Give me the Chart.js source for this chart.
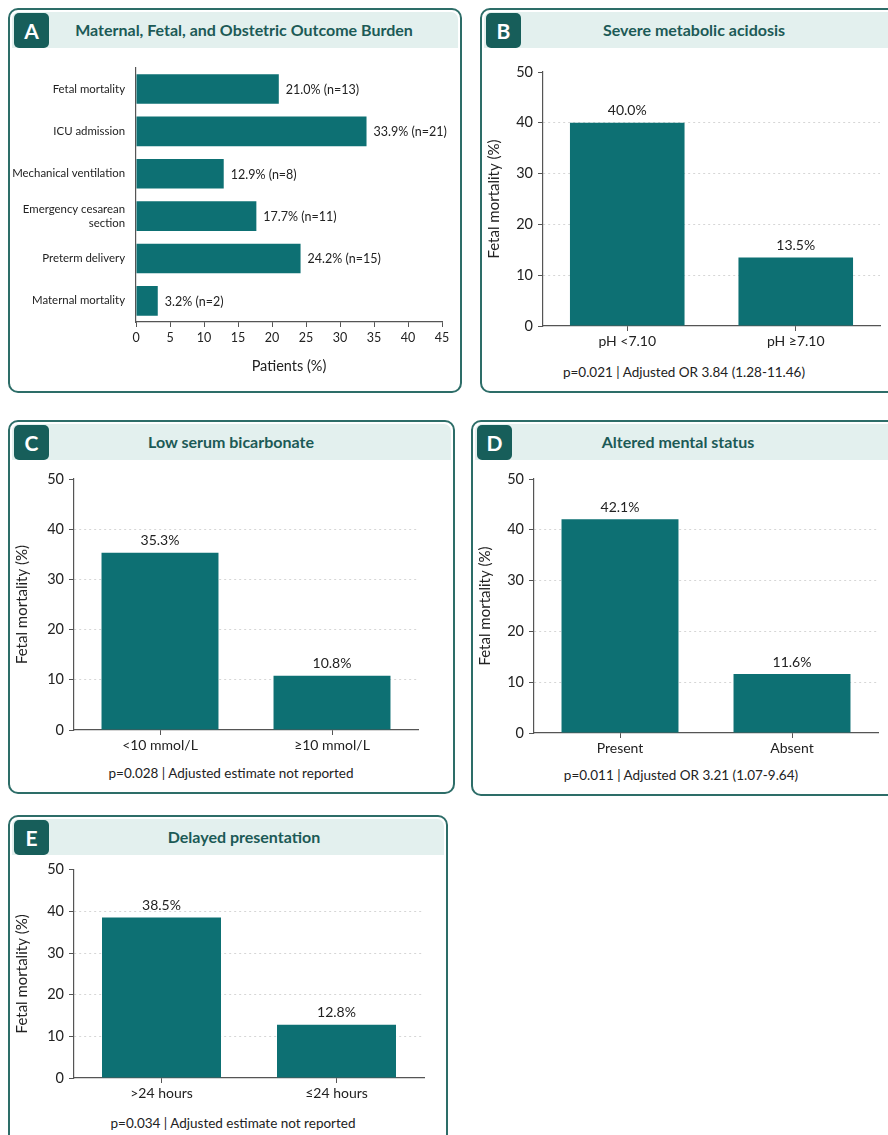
<!DOCTYPE html>
<html>
<head>
<meta charset="utf-8">
<script src="https://cdn.jsdelivr.net/npm/chart.js@4.4.1/dist/chart.umd.min.js"></script>
<style>
body{margin:0;width:888px;height:1135px;overflow:hidden;background:#fff;position:relative;font-family:Lato,"Noto Sans",sans-serif}
.panel{position:absolute;border:2px solid #2d6d68;border-radius:10px;box-sizing:border-box;background:#fff}
.head{position:absolute;left:2px;right:2px;top:2px;height:36px;background:#e3f0ee;border-radius:7px 7px 0 0}
.badge{position:absolute;left:4px;top:3px;width:35px;height:35px;background:#175e5a;border-radius:5px;color:#fff;font:700 21px Lato;line-height:35px;text-align:center}
.title{position:absolute;top:2px;width:400px;height:36px;text-align:center;color:#1c5a56;font:700 16px Lato;line-height:36px}
canvas{position:absolute}
.foot{position:absolute;width:400px;text-align:center;font:13.5px Lato;line-height:18px;color:#222}
</style>
</head>
<body>

<div class="panel" style="left:8px;top:8px;width:454px;height:385px">
  <div class="head"></div><div class="badge">A</div>
  <div class="title" style="left:34px">Maternal, Fetal, and Obstetric Outcome Burden</div>
</div>
<div class="panel" style="left:480px;top:8px;width:420px;height:385px">
  <div class="head"></div><div class="badge">B</div>
  <div class="title" style="left:12px">Severe metabolic acidosis</div>
</div>
<div class="panel" style="left:8px;top:420px;width:447px;height:374px">
  <div class="head"></div><div class="badge">C</div>
  <div class="title" style="left:21px">Low serum bicarbonate</div>
</div>
<div class="panel" style="left:471px;top:420px;width:430px;height:376px">
  <div class="head"></div><div class="badge">D</div>
  <div class="title" style="left:5px">Altered mental status</div>
</div>
<div class="panel" style="left:8px;top:815px;width:440px;height:340px">
  <div class="head"></div><div class="badge">E</div>
  <div class="title" style="left:34px">Delayed presentation</div>
</div>

<canvas id="chartA" width="450" height="330" style="left:10px;top:50px"></canvas>
<canvas id="chartB" width="406" height="312" style="left:482px;top:50px"></canvas>
<canvas id="chartC" width="443" height="300" style="left:10px;top:462px"></canvas>
<canvas id="chartD" width="415" height="302" style="left:473px;top:462px"></canvas>
<canvas id="chartE" width="436" height="250" style="left:10px;top:856px"></canvas>

<div class="foot" style="left:484px;top:363px">p=0.021 | Adjusted OR 3.84 (1.28-11.46)</div>
<div class="foot" style="left:31px;top:764px">p=0.028 | Adjusted estimate not reported</div>
<div class="foot" style="left:481px;top:766px">p=0.011 | Adjusted OR 3.21 (1.07-9.64)</div>
<div class="foot" style="left:33px;top:1114px">p=0.034 | Adjusted estimate not reported</div>

<script>
// Panel A: outcome burden
let outcomeLabels = ["Fetal mortality", "ICU admission", "Mechanical ventilation", ["Emergency cesarean", "section"], "Preterm delivery", "Maternal mortality"];
let outcomePct = [21.0, 33.9, 12.9, 17.7, 24.2, 3.2];
let outcomeN = [13, 21, 8, 11, 15, 2];
let patientTicks = [0, 45, 5]; // min, max, step

// Panels B-E: fetal mortality by risk factor
let acidosisLabels = ["pH <7.10", "pH \u22657.10"];
let acidosisValues = [40.0, 13.5];
let bicarbLabels = ["<10 mmol/L", "\u226510 mmol/L"];
let bicarbValues = [35.3, 10.8];
let mentalLabels = ["Present", "Absent"];
let mentalValues = [42.1, 11.6];
let delayLabels = [">24 hours", "\u226424 hours"];
let delayValues = [38.5, 12.8];
let mortalityTicks = [0, 50, 10];

Chart.defaults.font.family = "Lato, 'Noto Sans', sans-serif";
Chart.defaults.color = "#222";
Chart.defaults.animation = false;

const barColor = "#0d7073";
const axisColor = "#555";

// draws the % text next to / above each bar
const valueLabels = {
    id: "valueLabels",
    afterDatasetsDraw(chart, args, opts) {
        let ctx = chart.ctx;
        let meta = chart.getDatasetMeta(0);
        ctx.save();
        ctx.fillStyle = "#222";
        ctx.font = (opts.size || 13) + "px Lato";
        meta.data.forEach((bar, i) => {
            let txt = opts.texts[i];
            if (chart.options.indexAxis === "y") {
                ctx.textAlign = "left";
                ctx.textBaseline = "middle";
                ctx.fillText(txt, bar.x + 7, bar.y + 1);
            } else {
                ctx.textAlign = "center";
                ctx.textBaseline = "bottom";
                ctx.fillText(txt, bar.x, bar.y - 5);
            }
        });
        ctx.restore();
    }
};

new Chart(document.getElementById("chartA"), {
    type: "bar",
    data: {
        labels: outcomeLabels,
        datasets: [{ data: outcomePct, backgroundColor: barColor, barPercentage: 0.7, categoryPercentage: 1 }]
    },
    options: {
        indexAxis: "y",
        responsive: false,
        layout: { padding: { top: 15, right: 18, left: 0, bottom: 0 } },
        plugins: {
            legend: { display: false },
            tooltip: { enabled: false },
            valueLabels: { size: 12.5, texts: outcomePct.map((v, i) => v.toFixed(1) + "% (n=" + outcomeN[i] + ")") }
        },
        scales: {
            x: {
                min: patientTicks[0], max: patientTicks[1],
                ticks: { stepSize: patientTicks[2], font: { size: 12.5 }, padding: 3, color: "#222" },
                grid: { drawOnChartArea: false, tickLength: 5, tickColor: axisColor },
                border: { color: axisColor, width: 1.2 },
                title: { display: true, text: "Patients (%)", font: { size: 14.5 }, color: "#222", padding: { top: 4, bottom: 5 } },
                afterFit: s => { s.height = 58; }
            },
            y: {
                grid: { display: true, drawOnChartArea: false, drawTicks: false },
                border: { color: axisColor, width: 1.2 },
                ticks: { font: { size: 11.4 }, padding: 11, color: "#222" },
                afterFit: s => { s.width = 126; }
            }
        }
    },
    plugins: [valueLabels]
});

function drawMortalityChart(id, labels, values, box) {
    new Chart(document.getElementById(id), {
        type: "bar",
        data: {
            labels: labels,
            datasets: [{ data: values, backgroundColor: barColor, barPercentage: 0.68, categoryPercentage: 1 }]
        },
        options: {
            responsive: false,
            layout: { padding: { top: box.top, right: box.right, left: 0, bottom: 0 } },
            plugins: {
                legend: { display: false },
                tooltip: { enabled: false },
                valueLabels: { size: 14, texts: values.map(v => v.toFixed(1) + "%") }
            },
            scales: {
                x: {
                    grid: { drawOnChartArea: false, offset: false, tickLength: 5, tickColor: axisColor },
                    border: { color: axisColor, width: 1.2 },
                    ticks: { font: { size: 14 }, padding: 2, color: "#222" },
                    afterFit: s => { s.height = box.xh; }
                },
                y: {
                    min: mortalityTicks[0], max: mortalityTicks[1],
                    ticks: { stepSize: mortalityTicks[2], font: { size: 14.5 }, padding: 5, color: "#222" },
                    grid: {
                        color: c => (c.tick && c.tick.value > 0 && c.tick.value < 50) ? "#d6d6d6" : "rgba(0,0,0,0)",
                        tickColor: axisColor,
                        tickLength: 5
                    },
                    border: { color: axisColor, width: 1.2, dash: [2, 3] },
                    title: { display: true, text: "Fetal mortality (%)", font: { size: 15 }, color: "#222", padding: { top: 3, bottom: 2 } },
                    afterFit: s => { s.width = box.yw; }
                }
            }
        },
        plugins: [valueLabels]
    });
}

drawMortalityChart("chartB", acidosisLabels, acidosisValues, { top: 22, right: 8, xh: 36, yw: 61 });
drawMortalityChart("chartC", bicarbLabels, bicarbValues, { top: 17, right: 35, xh: 32, yw: 64 });
drawMortalityChart("chartD", mentalLabels, mentalValues, { top: 17, right: 10, xh: 31, yw: 61 });
drawMortalityChart("chartE", delayLabels, delayValues, { top: 13, right: 22, xh: 28, yw: 64 });
</script>
</body>
</html>
